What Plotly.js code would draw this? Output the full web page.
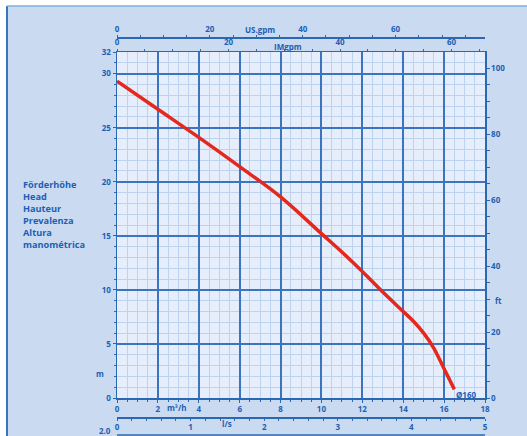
<!DOCTYPE html>
<html>
<head>
<meta charset="utf-8">
<script src="https://cdn.plot.ly/plotly-3.0.1.min.js"></script>
<style>
html,body{margin:0;padding:0;background:#fff;}
#chart{width:527px;height:436px;}
</style>
</head>
<body>
<div id="chart"></div>
<script>
// Flow (m3/h) and head (m) of the Ø160 curve
const flowM3h = [0, 2, 4, 6, 8, 10, 11, 12, 13, 14, 14.5, 15, 15.5, 16, 16.5];
const headM   = [29.3, 26.7, 24.1, 21.4, 18.6, 15.2, 13.5, 11.7, 9.8, 8.0, 7.1, 6.0, 4.6, 2.7, 0.8];
const curveName = "Ø160";

const headTicks = [0, 5, 10, 15, 20, 25, 30, 32];
const ftTicks = [0, 20, 40, 60, 80, 100];
const m3hTicks = [0, 2, 4, 6, 8, 10, 12, 14, 16, 18];
const lsTicks = [0, 1, 2, 3, 4, 5];
const usTicks = [0, 20, 40, 60];
const imTicks = [0, 20, 40, 60];
const headLabels = ["Förderhöhe", "Head", "Hauteur", "Prevalenza", "Altura", "manométrica"];

const M_TO_FT = 3.28084, M3H_TO_US = 4.40287, M3H_TO_IM = 3.66615, M3H_TO_LS = 1/3.6;
const QMAX = 18, HMAX = 32;

const blue = '#1d5fb3';
const tf = {family: 'Open Sans, DejaVu Sans, sans-serif', size: 8, color: blue, weight: 700};

const W = 527, H = 436, L = 117, R = 42, T = 20, B = 10;
const ph = H - T - B;
const py = y => (H - B - y) / ph;         // pixel -> paper y
const px = x => (x - L) / (W - L - R);    // pixel -> paper x

const traces = [
  {x: flowM3h, y: headM, xaxis: 'x', yaxis: 'y', mode: 'lines', line: {color: '#e5281d', width: 3.5, shape: 'spline', smoothing: 1}, hoverinfo: 'skip', showlegend: false},
  {x: flowM3h.map(q => q * M3H_TO_IM), y: headM, xaxis: 'x2', yaxis: 'y', mode: 'lines', opacity: 0, hoverinfo: 'skip', showlegend: false},
  {x: flowM3h.map(q => q * M3H_TO_US), y: headM, xaxis: 'x3', yaxis: 'y', mode: 'lines', opacity: 0, hoverinfo: 'skip', showlegend: false},
  {x: flowM3h.map(q => q * M3H_TO_LS), y: headM, xaxis: 'x4', yaxis: 'y', mode: 'lines', opacity: 0, hoverinfo: 'skip', showlegend: false},
  {x: flowM3h, y: headM.map(h => h * M_TO_FT), xaxis: 'x', yaxis: 'y2', mode: 'lines', opacity: 0, hoverinfo: 'skip', showlegend: false}
];

const axBase = {showline: true, linecolor: '#2a68b4', linewidth: 1.5, ticks: 'outside', ticklen: 3, tickcolor: '#2a68b4', tickfont: tf, zeroline: false, fixedrange: true};
const yDom = [py(398), py(52)];
const minorGrid = {showgrid: true, gridcolor: '#bdd2ef', gridwidth: 1};

const ann = (text, x, y, extra) => Object.assign({text: text, xref: 'paper', yref: 'paper', x: px(x), y: py(y), xanchor: 'center', yanchor: 'middle', showarrow: false, font: tf}, extra || {});

const layout = {
  width: W, height: H,
  margin: {l: L, r: R, t: T, b: B, pad: 0},
  paper_bgcolor: '#c9daf1',
  plot_bgcolor: '#e6eefb',
  showlegend: false,
  xaxis: Object.assign({}, axBase, {range: [0, QMAX], tickmode: 'array', tickvals: m3hTicks, showgrid: true, gridcolor: '#3b75bf', gridwidth: 2,
    minor: Object.assign({tickmode: 'linear', tick0: 0, dtick: 0.5, ticks: 'outside', ticklen: 2, tickcolor: '#2a68b4'}, minorGrid), anchor: 'y'}),
  yaxis: Object.assign({}, axBase, {range: [0, HMAX], domain: yDom, tickmode: 'array', tickvals: headTicks, showgrid: true, gridcolor: '#3b75bf', gridwidth: 2,
    minor: Object.assign({tickmode: 'linear', tick0: 0, dtick: 1, ticks: 'outside', ticklen: 2, tickcolor: '#2a68b4'}, minorGrid), anchor: 'x'}),
  xaxis2: Object.assign({}, axBase, {range: [0, QMAX * M3H_TO_IM], overlaying: 'x', side: 'top', anchor: 'y', tickmode: 'array', tickvals: imTicks, showgrid: false, ticklen: 2,
    minor: {tickmode: 'linear', tick0: 0, dtick: 5, ticks: 'outside', ticklen: 2, tickcolor: '#2a68b4', showgrid: false}}),
  xaxis3: Object.assign({}, axBase, {range: [0, QMAX * M3H_TO_US], overlaying: 'x', side: 'top', anchor: 'free', position: py(37), tickmode: 'array', tickvals: usTicks, showgrid: false, ticklen: 2,
    minor: {tickmode: 'linear', tick0: 0, dtick: 5, ticks: 'outside', ticklen: 2, tickcolor: '#2a68b4', showgrid: false}}),
  xaxis4: Object.assign({}, axBase, {range: [0, QMAX * M3H_TO_LS], overlaying: 'x', side: 'bottom', anchor: 'free', position: py(417), tickmode: 'array', tickvals: lsTicks, showgrid: false, ticklen: 2,
    minor: {tickmode: 'linear', tick0: 0, dtick: 0.2, ticks: 'outside', ticklen: 2, tickcolor: '#2a68b4', showgrid: false}}),
  yaxis2: Object.assign({}, axBase, {range: [0, HMAX * M_TO_FT], overlaying: 'y', side: 'right', anchor: 'x', tickmode: 'array', tickvals: ftTicks, showgrid: false,
    minor: {tickmode: 'linear', tick0: 0, dtick: 5, ticks: 'outside', ticklen: 3, tickcolor: '#2a68b4', showgrid: false}}),
  annotations: [
    ann(headLabels.join('<br>'), 21, 176, {xanchor: 'left', yanchor: 'top', align: 'left', font: Object.assign({}, tf, {size: 9.2})}),
    ann('m', 100, 373),
    ann('ft', 498, 300),
    ann('m³/h', 176, 407),
    ann('l/s', 227, 423),
    ann('US.gpm', 260, 29),
    ann('IMgpm', 288, 46),
    ann(curveName, 466, 394),
    ann('2.0', 113, 430, {xanchor: 'right'})
  ],
  shapes: [
    {type: 'rect', xref: 'paper', yref: 'paper', x0: px(-5), x1: px(7), y0: py(440), y1: py(-5), fillcolor: '#ffffff', line: {width: 0}, layer: 'above'},
    {type: 'rect', xref: 'paper', yref: 'paper', x0: px(-5), x1: px(532), y0: py(6), y1: py(-5), fillcolor: '#ffffff', line: {width: 0}, layer: 'above'},
    {type: 'line', xref: 'paper', yref: 'paper', x0: px(7), x1: px(7), y0: py(440), y1: py(6), line: {color: '#3b74bd', width: 2}, layer: 'above'},
    {type: 'line', xref: 'paper', yref: 'paper', x0: px(7), x1: px(532), y0: py(6), y1: py(6), line: {color: '#7eaee0', width: 1.5}, layer: 'above'},
    {type: 'line', xref: 'paper', yref: 'paper', x0: px(117), x1: px(485), y0: py(435), y1: py(435), line: {color: '#2a68b4', width: 1.3}, layer: 'above'}
  ]
};

Plotly.newPlot('chart', traces, layout, {displayModeBar: false, staticPlot: true});
</script>
</body>
</html>
